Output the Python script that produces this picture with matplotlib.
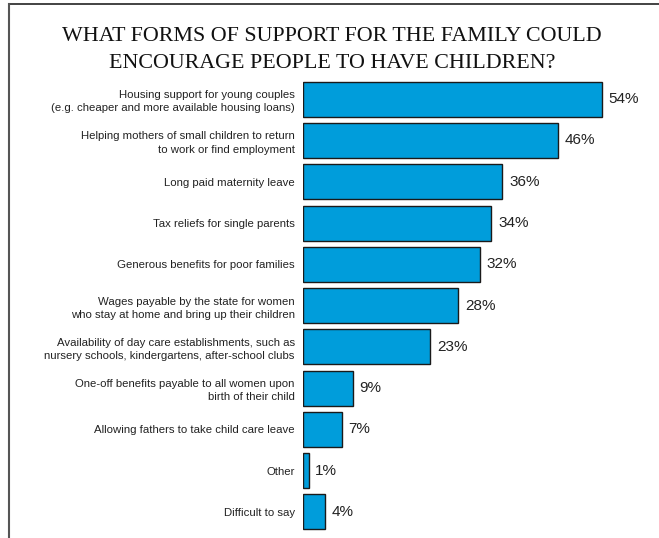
import matplotlib.pyplot as plt
from matplotlib.lines import Line2D

# Survey data
labels = [
    "Housing support for young couples\n(e.g. cheaper and more available housing loans)",
    "Helping mothers of small children to return\nto work or find employment",
    "Long paid maternity leave",
    "Tax reliefs for single parents",
    "Generous benefits for poor families",
    "Wages payable by the state for women\nwho stay at home and bring up their children",
    "Availability of day care establishments, such as\nnursery schools, kindergartens, after-school clubs",
    "One-off benefits payable to all women upon\nbirth of their child",
    "Allowing fathers to take child care leave",
    "Other",
    "Difficult to say",
]
values = [54, 46, 36, 34, 32, 28, 23, 9, 7, 1, 4]

W, H = 659, 538
fig = plt.figure(figsize=(W / 100, H / 100), dpi=100)

# axes placed in pixel terms
left, right, top, bottom = 303, 659, 70, 538
ax = fig.add_axes([left / W, 1 - bottom / H, (right - left) / W, (bottom - top) / H])

px_per_unit = 5.54
step = 41.28
first_center = 99.2
pos = list(range(len(values)))
ax.barh(pos, values, height=35 / step, color="#009ddb", edgecolor="#1a1a1a", linewidth=1.0)

ax.set_xlim(0, (right - left) / px_per_unit)
ax.set_ylim(10 + (bottom - 512) / step, -(first_center - top) / step)

ax.set_yticks(pos)
ax.set_yticklabels(labels, fontsize=8.2, family="Liberation Sans", color="#222222",
                   linespacing=1.4)
ax.tick_params(axis="y", length=0, pad=6)
ax.set_xticks([])
for s in ax.spines.values():
    s.set_visible(False)

for p, v in zip(pos, values):
    ax.text(v + 1.2, p, f"{v}%", va="center", ha="left", fontsize=11,
            family="Liberation Sans", color="#222222")

fig.text(332 / W, 1 - 50 / H,
         "WHAT FORMS OF SUPPORT FOR THE FAMILY COULD\nENCOURAGE PEOPLE TO HAVE CHILDREN?",
         ha="center", va="center", fontsize=15.8, family="Liberation Serif",
         color="#111111", linespacing=1.55)

# frame lines (top and left)
fig.add_artist(Line2D([8.5 / W, 1], [1 - 4 / H, 1 - 4 / H], transform=fig.transFigure,
                      color="#222222", lw=1.2))
fig.add_artist(Line2D([8.5 / W, 8.5 / W], [0, 1 - 4 / H], transform=fig.transFigure,
                      color="#555555", lw=1.5))

fig.savefig("out.png", dpi=100)
